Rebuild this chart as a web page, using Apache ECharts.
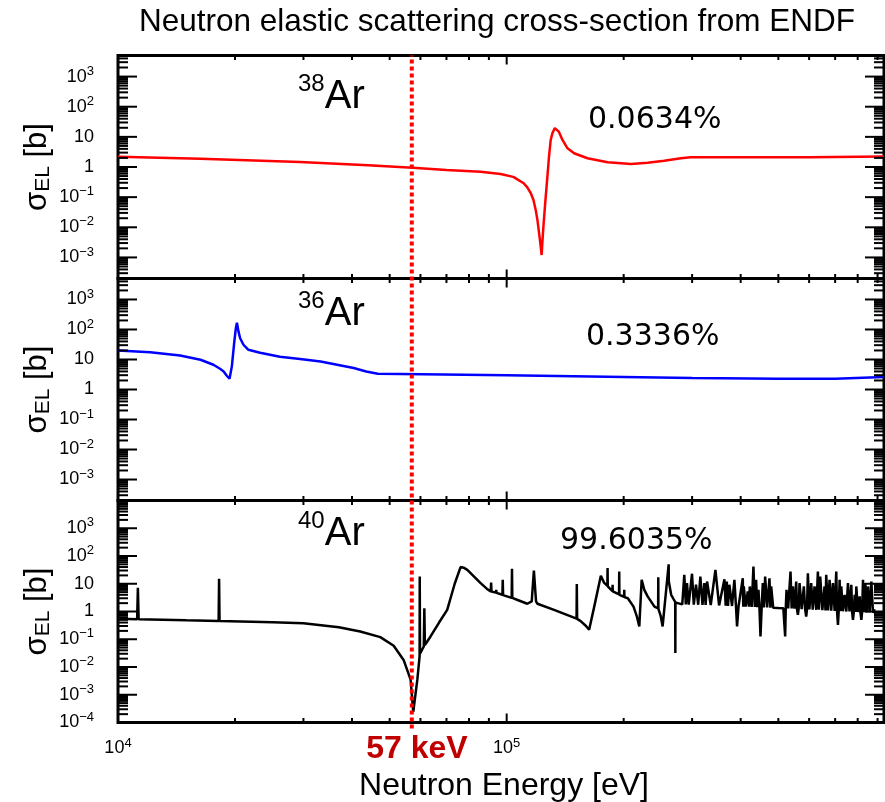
<!DOCTYPE html>
<html><head><meta charset="utf-8">
<script src="https://cdn.jsdelivr.net/npm/echarts@6/dist/echarts.min.js"></script>
<style>html,body{margin:0;padding:0;background:#fff}#c{width:885px;height:802px}</style>
</head><body><div id="c"></div>
<script>
// ---------------- data ----------------
const X_MIN = 1e4, X_MAX = 9.35e5;
const markerEnergy = 57000;
const isotopes = ['38', '36', '40'];
const abundances = ['0.0634%', '0.3336%', '99.6035%'];
const panelYRange = [[2e-4, 5e3], [2e-4, 5e3], [1e-4, 1e4]];
const yLabelValues = [
  [1e3, 1e2, 10, 1, 0.1, 0.01, 0.001],
  [1e3, 1e2, 10, 1, 0.1, 0.01, 0.001],
  [1e3, 1e2, 10, 1, 0.1, 0.01, 0.001, 0.0001]
];
const xLabelValues = [1e4, 1e5];
const xMajorTicks = [1e4, 1e5];
const tickMultipliers = [2, 3, 4, 5, 6, 7, 8, 9];

const ar38 = [[10000,2.2],[16300,1.87],[29400,1.47],[44000,1.14],[57300,0.95],[70000,0.79],[85700,0.70],
  [96500,0.585],[104000,0.47],[110600,0.29],[113000,0.21],[115300,0.137],[117200,0.080],[118800,0.037],
  [120000,0.0173],[120900,0.0081],[122100,0.0029],[123000,0.0012],[123800,0.0048],[124500,0.0138],[126000,0.10],
  [127500,0.63],[128500,2.2],[129800,7.9],[131200,13.5],[133000,19.5],[134500,21],[136200,14.9],[139200,7.9],
  [143400,4.17],[149100,2.85],[161400,1.95],[181800,1.43],[208900,1.26],[230500,1.39],[254400,1.62],
  [280700,1.95],[297600,2.1],[600000,2.1],[935000,2.25]];

const ar36 = [[10000,20],[12100,17.3],[14450,13.6],[16300,9.8],[17600,6.67],[18300,4.9],[18700,4.0],[19050,2.88],
  [19360,2.28],[19630,5.9],[19900,35],[20100,110],[20230,169],[20420,85],[20620,51],[21030,31],[21650,21],
  [23200,16.7],[26100,12.3],[29400,10.3],[33200,8.6],[40400,5.2],[43500,4.0],[46600,3.35],[53300,3.3],
  [100000,3.0],[200000,2.6],[300000,2.4],[500000,2.3],[700000,2.3],[935000,2.6]];

const ar40 = [
  [10000,0.55],[11200,0.53],[11250,7.1],[11300,0.53],[15000,0.48],[18150,0.45],[18200,15],[18250,0.45],
  [25000,0.41],[30000,0.38],[37000,0.27],[42000,0.19],[47300,0.119],[51200,0.058],[54300,0.018],[56600,0.0035],
  [57500,0.00024],[58900,0.0035],[59700,0.024],[59750,18.2],[59850,0.03],[61200,0.055],[61400,1.32],[61600,0.062],
  [63700,0.126],[67000,0.4],[70300,1.15],[73500,10],[76100,39.8],[77500,38],[79200,31.8],[85700,10.5],[89000,6.5],
  [91000,5.3],[91200,11],[91400,5.2],[93800,4.8],[94000,6.05],[94200,4.7],[97500,4.0],[97700,13.9],[97900,3.9],
  [103000,3.1],[103200,34.6],[103400,3.1],[106700,2.6],[106900,3.0],[107100,2.55],[113000,1.9],[116000,2.3],
  [117500,30],[119000,2.3],[120000,1.9],[132400,1.15],[149000,0.6],[151300,0.55],[151500,9.7],[151800,0.54],
  [155000,0.45],[160000,0.3],[163000,0.22],[168000,1.5],[174700,19.4],
  [178000,11],[181600,8.5],[181800,36.6],[182000,8],[187100,5.4],[187300,9.2],[187500,5.3],[194600,4.1],
  [194800,27.6],[195000,4],[200500,3.4],[200700,6.05],[200900,3.3],[205000,3.0],[212000,1.5],[216000,0.7],
  [219400,0.29],[222500,13.9],[226000,6],[230500,3.5],[240000,1.5],[245300,1.3],[245500,17],[245700,1.25],
  [249000,0.7],[251900,0.29],[256000,3],[259500,21],[261000,20],[261100,50],[261300,12],[265000,4],
  [271400,2.2],[271600,0.032],[271800,2.1],[275400,2.0],
  [283000,1.8],[286400,21],[289000,1.8],[291000,10.5],[294000,1.78],[299800,23],[303000,1.76],[307000,9.2],
  [311000,1.75],[315000,18.2],[319000,1.74],[322600,10.5],[325000,1.73],[327800,12],[335000,1.7],[344400,31.8],
  [352000,1.65],[363300,14.5],[366000,1.62],[368400,12],[371000,1.6],[374100,9.2],[380000,1.58],[385400,13.9],
  [389000,1.56],[391500,0.29],[395000,1.55],[405000,15.8],[406200,1.5],[407400,8],[412000,1.5],[417200,5.3],
  [420000,1.48],[422200,8],[427000,1.46],[431400,41.9],[435000,1.45],[438300,13.9],[441000,1.44],[444400,6.05],
  [447000,1.43],[449800,0.126],[453000,1.42],[456000,10.5],[459000,1.41],[462400,18.2],[468000,1.4],
  [474400,15.8],[477000,1.38],[479200,8],[485000,1.36],[500000,1.33],[515000,1.32],[520600,0.126],[522500,1.3],
  [524800,6.05],[530000,1.3],[537400,27.6],[541000,1.28],[544900,8],[550000,1.27],[555800,12],[558500,1.2],
  [561300,0.76],[564000,1.25],[566900,10.5],[574000,1.22],[581600,8],[586000,1.2],[589700,0.66],[592500,1.2],
  [595600,24],[601000,1.18],[607500,10.5],[613000,1.17],[619600,8],[626000,1.15],[632000,27.6],[636000,1.15],
  [640800,18.2],[649000,1.12],[657500,8],[661000,1.1],[664000,21],[671000,1.1],[677300,13.9],[684000,1.08],
  [690800,10.5],[698000,1.06],[704700,27.6],[708000,1.05],[711700,0.33],[715000,1.04],[718800,13.9],[722000,1.03],
  [725900,8],[733000,1.02],[740400,4],[748000,1.0],[755200,10.5],[762000,1.0],[770400,9.2],[774000,0.98],
  [778000,0.5],[782000,0.98],[785800,4],[790000,0.97],[793600,8],[801000,0.96],[809500,3.5],[813000,0.95],
  [817600,0.5],[821000,0.95],[825700,13.9],[831000,0.94],[837200,10.5],[844000,0.93],[850500,8],[859000,0.92],
  [867500,12],[876000,0.9],[885000,1.2]
];

const seriesData = [ar38, ar36, ar40];
const seriesColors = ['#ff0000', '#0000ff', '#000000'];

// ---------------- layout ----------------
const FONT = '"Liberation Sans", Arial, Helvetica, sans-serif';
const gridBoxes = [
  {top: 55.5, height: 223},
  {top: 278.5, height: 222},
  {top: 500.5, height: 222}
];
const GL = 118, GW = 766;

function expLabel(v) {
  const k = Math.round(Math.log10(v));
  if (k === 0) return '{b|1}';
  if (k === 1) return '{b|10}';
  return '{b|10}{s|' + (k < 0 ? '\u2212' : '') + Math.abs(k) + '}';
}
const labelRich = {
  b: {fontSize: 18, fontFamily: FONT, color: '#000'},
  s: {fontSize: 13, fontFamily: FONT, color: '#000', padding: [0, 0, 11, 0]}
};

function yTicks(range) {
  const out = [];
  for (let e = -5; e <= 5; e++) {
    const d = Math.pow(10, e);
    if (d > range[0] * 1.0001 && d < range[1] * 0.9999) out.push([d, 19]);
    tickMultipliers.forEach(m => {
      const v = m * d;
      if (v > range[0] * 1.0001 && v < range[1] * 0.9999) out.push([v, 10]);
    });
  }
  return out;
}
function xMinorTicks() {
  const out = [];
  xMajorTicks.forEach(d => tickMultipliers.forEach(m => { if (m * d < X_MAX) out.push(m * d); }));
  return out;
}

const grids = [], xAxes = [], yAxes = [], series = [];
gridBoxes.forEach((g, i) => {
  grids.push({left: GL, width: GW, top: g.top, height: g.height, show: true,
    borderColor: '#000', borderWidth: 3, backgroundColor: 'transparent'});
  xAxes.push({type: 'log', logBase: 10, gridIndex: i, min: X_MIN, max: X_MAX,
    axisLine: {show: false}, axisTick: {show: false}, axisLabel: {show: false}, splitLine: {show: false}});
  yAxes.push({type: 'log', logBase: 10, gridIndex: i, min: panelYRange[i][0], max: panelYRange[i][1],
    axisLine: {show: false}, axisTick: {show: false}, axisLabel: {show: false}, splitLine: {show: false},
    name: '{s|\u03c3}{sub|EL}{s| [b]}', nameLocation: 'middle', nameRotate: 90, nameGap: 64,
    nameTextStyle: {color: '#000', rich: {
      s: {fontSize: 31, fontFamily: FONT, color: '#000'},
      sub: {fontSize: 21, fontFamily: FONT, color: '#000', padding: [12, 0, 0, 0]}
    }}});

  series.push({type: 'line', xAxisIndex: i, yAxisIndex: i, data: seriesData[i], showSymbol: false,
    symbol: 'none', smooth: false, sampling: null, z: 3, animation: false,
    lineStyle: {color: seriesColors[i], width: 2.5}, itemStyle: {color: seriesColors[i]}});

  // tick marks
  const tdata = [];
  xMajorTicks.forEach(v => tdata.push([v, panelYRange[i][0], 0, 9]));
  xMinorTicks().forEach(v => tdata.push([v, panelYRange[i][0], 0, 4.5]));
  yTicks(panelYRange[i]).forEach(t => tdata.push([X_MIN, t[0], 1, t[1]]));
  series.push({type: 'custom', xAxisIndex: i, yAxisIndex: i, data: tdata, silent: true, z: 6, animation: false,
    renderItem: function (params, api) {
      const cs = params.coordSys;
      const kind = api.value(2), len = api.value(3);
      const p = api.coord([api.value(0), api.value(1)]);
      const st = {stroke: '#000', lineWidth: 2};
      if (kind === 0) {
        if (p[0] < cs.x + 2) return null;
        return {type: 'group', children: [
          {type: 'line', shape: {x1: p[0], y1: cs.y + cs.height, x2: p[0], y2: cs.y + cs.height - len}, style: st},
          {type: 'line', shape: {x1: p[0], y1: cs.y, x2: p[0], y2: cs.y + len}, style: st}
        ]};
      }
      return {type: 'group', children: [
        {type: 'line', shape: {x1: cs.x, y1: p[1], x2: cs.x + len, y2: p[1]}, style: st},
        {type: 'line', shape: {x1: cs.x + cs.width, y1: p[1], x2: cs.x + cs.width - len, y2: p[1]}, style: st}
      ]};
    }});

  // tick labels
  const ldata = yLabelValues[i].map(v => [X_MIN, v, 1]);
  if (i === 2) xLabelValues.forEach(v => ldata.push([v, panelYRange[i][0], 0]));
  series.push({type: 'custom', xAxisIndex: i, yAxisIndex: i, data: ldata, silent: true, z: 6, animation: false,
    renderItem: function (params, api) {
      const cs = params.coordSys;
      const kind = api.value(2);
      const v = kind === 1 ? api.value(1) : api.value(0);
      const p = api.coord([api.value(0), api.value(1)]);
      if (kind === 1) {
        return {type: 'text', x: cs.x - 24, y: p[1],
          style: {text: expLabel(v), rich: labelRich, align: 'right', verticalAlign: 'middle', fill: '#000'}};
      }
      return {type: 'text', x: p[0], y: cs.y + cs.height + 26,
        style: {text: expLabel(v), rich: labelRich, align: 'center', verticalAlign: 'middle', fill: '#000'}};
    }});
});

// dotted 57 keV marker overlay
grids.push({left: GL, width: GW, top: 55.5, height: 673, show: false});
xAxes.push({type: 'log', logBase: 10, gridIndex: 3, min: X_MIN, max: X_MAX, show: false});
yAxes.push({type: 'value', gridIndex: 3, min: 0, max: 1, show: false});
series.push({type: 'line', xAxisIndex: 3, yAxisIndex: 3, data: [[markerEnergy, 0], [markerEnergy, 1]],
  symbol: 'none', z: 10, animation: false, lineStyle: {color: '#ff0000', width: 4, type: [4, 3]}});

function txt(x, y, text, opt) {
  return Object.assign({type: 'text', x: x, y: y, z: 20, silent: true,
    style: Object.assign({text: text, fill: '#000', fontFamily: FONT, fontSize: 20,
      align: 'left', verticalAlign: 'middle', textAlign: 'left', textVerticalAlign: 'middle'}, opt)});
}
const isoRich = {
  s: {fontSize: 24, fontFamily: FONT, color: '#000', padding: [0, 0, 26, 0]},
  a: {fontSize: 40, fontFamily: FONT, color: '#000'}
};
const isoPos = [[298, 97], [298, 314], [298, 534]];
const pctPos = [[588, 120], [586, 337], [560, 541]];
const graphics = [
  txt(497, 22, 'Neutron elastic scattering cross-section from ENDF', {fontSize: 31.5, align: 'center', textAlign: 'center'}),
  txt(504, 786, 'Neutron Energy [eV]', {fontSize: 32, align: 'center', textAlign: 'center'}),
  txt(417, 749, '57 keV', {fontSize: 32, fontWeight: 'bold', fill: '#c00000', align: 'center', textAlign: 'center'})
];
isotopes.forEach((iso, i) => {
  graphics.push(txt(isoPos[i][0], isoPos[i][1], '{s|' + iso + '}{a|Ar}', {rich: isoRich}));
  graphics.push(txt(pctPos[i][0], pctPos[i][1], abundances[i], {fontSize: 30, fontFamily: '"DejaVu Sans", sans-serif'}));
});

const chart = echarts.init(document.getElementById('c'), null, {renderer: 'canvas'});
chart.setOption({
  animation: false,
  backgroundColor: '#fff',
  grid: grids, xAxis: xAxes, yAxis: yAxes, series: series,
  graphic: {elements: graphics}
});
</script></body></html>
